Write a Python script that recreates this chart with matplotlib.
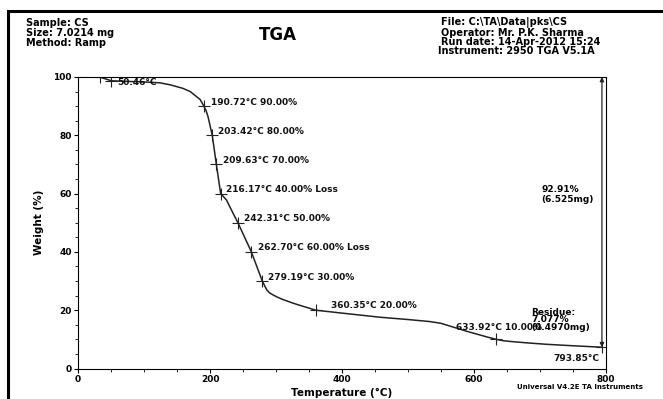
import numpy as np
import matplotlib.pyplot as plt
from matplotlib.patches import Rectangle
from matplotlib.ticker import MultipleLocator

# TGA curve (temperature in C, weight in %)
temp = [33, 50.46, 74, 100, 124, 140, 159, 170, 180, 185, 190.72, 194, 197,
        203.42, 209.63, 216.17, 225, 230, 236, 242.31, 262.70, 279.19, 283,
        286, 290, 295, 301, 310, 326, 340, 360.35, 400, 457, 500, 533, 550,
        560, 573, 590, 609, 620, 633.92, 645, 659, 680, 710, 750, 793.85]
weight = [100, 98.7, 98.5, 98.3, 98.0, 97.3, 96.1, 95.0, 93.2, 92.3, 90.0,
          88.5, 86.4, 80.0, 70.0, 60.0, 57.8, 55.5, 52.8, 50.0, 40.0, 30.0,
          28.3, 27.0, 26.0, 25.3, 24.6, 23.7, 22.4, 21.4, 20.0, 19.0, 17.6,
          16.8, 16.1, 15.5, 14.8, 13.9, 12.7, 11.5, 10.8, 10.0, 9.5, 9.2,
          8.8, 8.3, 7.8, 7.3]

# marked points and their labels
mark_t = [33, 50.46, 190.72, 203.42, 209.63, 216.17, 242.31, 262.70, 279.19,
          360.35, 633.92, 793.85]
mark_w = [100, 98.7, 90.0, 80.0, 70.0, 60.0, 50.0, 40.0, 30.0, 20.0, 10.0, 7.3]
labels = ["50.46°C", "190.72°C 90.00%", "203.42°C 80.00%", "209.63°C 70.00%",
          "216.17°C 40.00% Loss", "242.31°C 50.00%", "262.70°C 60.00% Loss",
          "279.19°C 30.00%", "360.35°C 20.00%", "633.92°C 10.00%", "793.85°C"]
label_t = [59, 201, 212, 220, 225, 251, 273, 288, 383, 573, 790]
label_w = [98.0, 91.2, 81.2, 71.3, 61.5, 51.6, 41.6, 31.3, 21.5, 13.9, 3.5]

step_t = 793.85
step_top = 100
step_bottom = 7.3

fig = plt.figure(figsize=(6.63, 3.99), dpi=100)
ax = fig.add_axes([78 / 663, 1 - 368.5 / 399, 528 / 663, 291.5 / 399])

ax.plot(temp, weight, color='#222222', linewidth=1.1)
ax.plot(mark_t, mark_w, linestyle='none', marker='+', markersize=8,
        markeredgewidth=0.8, color='#222222')

for lab, tx, wy in zip(labels, label_t, label_w):
    ha = 'right' if lab == "793.85°C" else 'left'
    ax.text(tx, wy, lab, fontsize=6.5, fontweight='bold', ha=ha, va='center',
            color='#111111')

# weight step between start and end
ax.annotate('', xy=(step_t, step_bottom), xytext=(step_t, step_top),
            arrowprops=dict(arrowstyle='<|-|>', color='#222222', lw=0.9,
                            mutation_scale=6, shrinkA=0, shrinkB=0))
ax.text(702, 61.5, "92.91%", fontsize=6.5, fontweight='bold', va='center')
ax.text(702, 59.3 - 1.2, "(6.525mg)", fontsize=6.5, fontweight='bold', va='center')
ax.text(687, 19.3, "Residue:", fontsize=6.5, fontweight='bold', va='center')
ax.text(687, 16.7, "7.077%", fontsize=6.5, fontweight='bold', va='center')
ax.text(687, 14.1, "(0.4970mg)", fontsize=6.5, fontweight='bold', va='center')

ax.set_xlim(0, 800)
ax.set_ylim(0, 100)
ax.set_xticks([0, 200, 400, 600, 800])
ax.set_yticks([0, 20, 40, 60, 80, 100])
ax.xaxis.set_minor_locator(MultipleLocator(50))
ax.yaxis.set_minor_locator(MultipleLocator(5))
ax.tick_params(which='major', length=3, width=0.8, labelsize=6.5, pad=1.5)
ax.tick_params(which='minor', length=2, width=0.6)
for lab in ax.get_xticklabels() + ax.get_yticklabels():
    lab.set_fontweight('bold')
for sp in ax.spines.values():
    sp.set_linewidth(0.8)

ax.set_xlabel("Temperature (°C)", fontsize=7.5, fontweight='bold', labelpad=3)
ax.set_ylabel("Weight (%)", fontsize=7.5, fontweight='bold', labelpad=7)

# header
hdr = dict(fontsize=7, fontweight='bold', family='DejaVu Sans', va='center')
fig.text(26 / 663, 1 - 23 / 399, "Sample: CS", **hdr)
fig.text(26 / 663, 1 - 33 / 399, "Size: 7.0214 mg", **hdr)
fig.text(26 / 663, 1 - 43 / 399, "Method: Ramp", **hdr)
fig.text(441 / 663, 1 - 23 / 399, "File: C:\\TA\\Data|pks\\CS", **hdr)
fig.text(441 / 663, 1 - 33 / 399, "Operator: Mr. P.K. Sharma", **hdr)
fig.text(441 / 663, 1 - 42 / 399, "Run date: 14-Apr-2012 15:24", **hdr)
fig.text(438 / 663, 1 - 51 / 399, "Instrument: 2950 TGA V5.1A", **hdr)
fig.text(278 / 663, 1 - 35 / 399, "TGA", fontsize=12, fontweight='bold',
         ha='center', va='center')
fig.text(580 / 663, 1 - 387 / 399, "Universal V4.2E TA Instruments",
         fontsize=5, fontweight='bold', ha='center', va='center')

# page frame
fig.patches.append(Rectangle((8 / 663, -0.2), 1.2, 1.2 - 11 / 399,
                             transform=fig.transFigure, fill=False,
                             edgecolor='black', linewidth=2.2))

fig.savefig('out.png', dpi=100)
